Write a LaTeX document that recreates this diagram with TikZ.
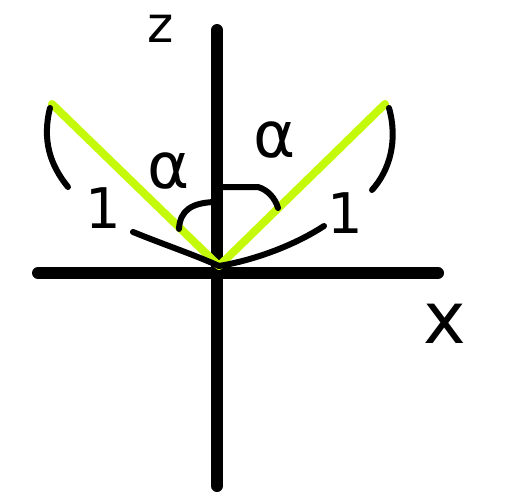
\documentclass[tikz,border=0pt]{standalone}
\usepackage{fontspec}
\setmainfont{DejaVu Sans}
\definecolor{lime}{HTML}{C4FA0A}
\begin{document}
\begin{tikzpicture}[x=1pt,y=-1pt,
  axis/.style={line width=12pt,line cap=round},
  ray/.style={line width=8pt,lime,line cap=round},
  stroke/.style={line width=6pt,line cap=round},
  lbl/.style={inner sep=0pt,anchor=base,font=\fontsize{#1}{#1}\selectfont},
  lbl/.default=60]
\useasboundingbox (0,0) rectangle (512,498);
\coordinate (O) at (219,266);
\coordinate (ztop) at (217,30);
\coordinate (zbot) at (217,486);
\coordinate (xl) at (38,273);
\coordinate (xr) at (438,273);
\coordinate (L) at (52,104);
\coordinate (R) at (385,104);
\draw[axis] (ztop) -- (zbot);
\draw[axis] (xl) -- (xr);
\draw[ray] (L) -- (O);
\draw[ray] (O) -- (R);
% brackets
\draw[stroke] (50,108) .. controls (42,140) and (50,165) .. (68,187);
\draw[stroke] (389,108) .. controls (398,140) and (390,170) .. (372,190);
% lower arcs
\draw[stroke] (133,232) .. controls (165,245) and (195,255) .. (O);
\draw[stroke] (324,226) .. controls (295,245) and (255,260) .. (O);
% angle arcs
\draw[stroke] (179,229) .. controls (180,210) and (192,203) .. (214,202);
\draw[stroke] (221,187) -- (258,187) .. controls (268,190) and (275,198) .. (278,208);
% labels
\node[lbl=64] (aL) at (169,188) {α};
\node[lbl=64] (aR) at (275,157) {α};
\node[lbl=56] (oneL) at (103,228) {1};
\node[lbl=56] (oneR) at (345,233) {1};
\node[lbl=50,text height=1ex] (zl) at (161,42) {z};
\node[lbl=72] (xlb) at (445,343) {x};
\end{tikzpicture}
\end{document}
